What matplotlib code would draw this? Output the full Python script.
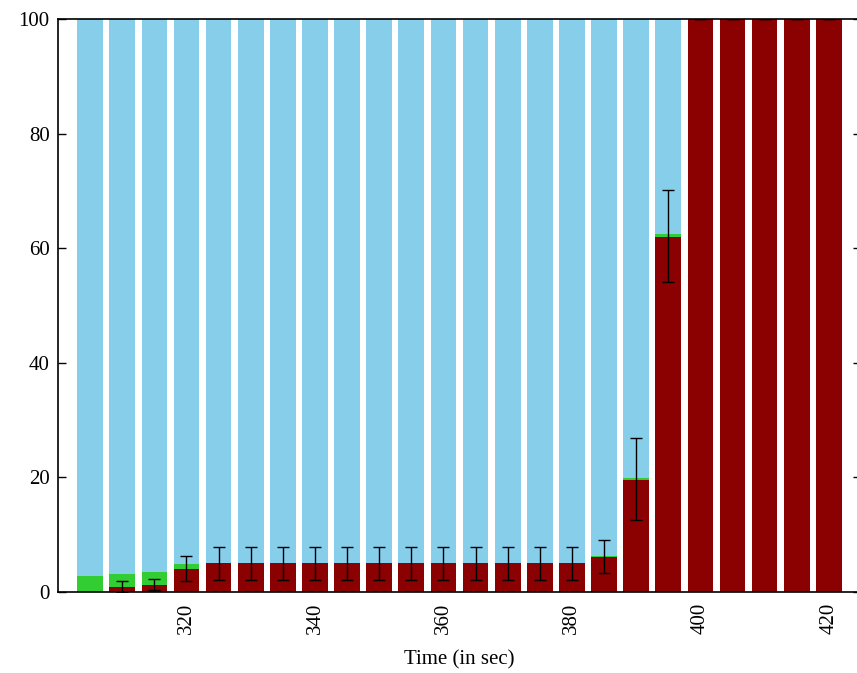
import matplotlib
matplotlib.use("Agg")
import matplotlib.pyplot as plt
import numpy as np

times = [305, 310, 315, 320, 325, 330, 335, 340, 345, 350, 355, 360,
         365, 370, 375, 380, 385, 390, 395, 400, 405, 410, 415, 420]
red = [0.0, 0.85, 1.2, 4.0, 5, 5, 5, 5, 5, 5, 5, 5,
       5, 5, 5, 5, 6.15, 19.6, 62.0, 100, 100, 100, 100, 100]
green = [2.8, 2.35, 2.3, 0.85, 0, 0, 0, 0, 0, 0, 0, 0,
         0, 0, 0, 0, 0.2, 0.35, 0.5, 0, 0, 0, 0, 0]
err_low = [np.nan, 0.0, 0.4, 2.0, 2.15, 2.15, 2.15, 2.15, 2.15, 2.15, 2.15, 2.15,
           2.15, 2.15, 2.15, 2.15, 3.4, 12.5, 54.1, 100, 100, 100, 100, 100]
err_high = [np.nan, 1.85, 2.3, 6.2, 7.9, 7.9, 7.9, 7.9, 7.9, 7.9, 7.9, 7.9,
            7.9, 7.9, 7.9, 7.9, 9.05, 26.8, 70.2, 100, 100, 100, 100, 100]
xticks = [320, 340, 360, 380, 400, 420]
yticks = [0, 20, 40, 60, 80, 100]

plt.rcParams['font.family'] = ['Liberation Serif', 'DejaVu Serif']
fig = plt.figure(figsize=(8.57, 6.73), dpi=100)
ax = fig.add_axes([58/857, 81/673, 803/857, 573/673])

t = np.array(times, dtype=float)
r = np.array(red)
g = np.array(green)
sky = 100 - r - g
w = 4.0
ax.bar(t, r, width=w, color='#8B0000', linewidth=0, zorder=2)
ax.bar(t, g, width=w, bottom=r, color='#32CD32', linewidth=0, zorder=2)
ax.bar(t, sky, width=w, bottom=r + g, color='#87CEEB', linewidth=0, zorder=2)

lo = np.array(err_low)
hi = np.array(err_high)
mid = r
yerr = np.vstack([mid - lo, hi - mid])
ax.errorbar(t, mid, yerr=yerr, fmt='none', ecolor='black', elinewidth=1,
            capsize=4, capthick=1, zorder=3)

ax.set_xlim(300, 425)
ax.set_ylim(0, 100)
ax.set_xticks(xticks)
ax.set_xticklabels([str(v) for v in xticks], rotation=90, fontsize=15)
ax.set_yticks(yticks)
ax.set_yticklabels([str(v) for v in yticks], fontsize=15)
ax.tick_params(axis='y', direction='in', length=6, right=True, width=1, pad=6)
ax.tick_params(axis='x', direction='in', length=0, pad=8)
ax.set_xlabel('Time (in sec)', fontsize=15, labelpad=11)
for s in ax.spines.values():
    s.set_linewidth(1.2)
    s.set_zorder(5)

fig.savefig('out.png', dpi=100)
